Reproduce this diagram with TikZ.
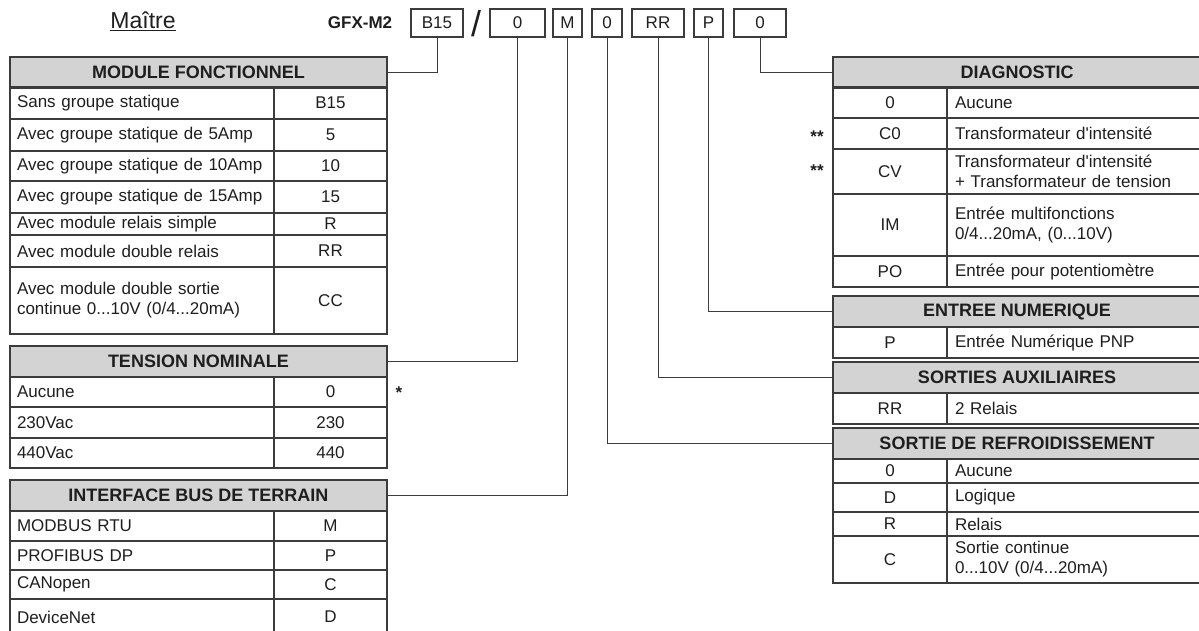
\documentclass[tikz,border=0pt]{standalone}
\usepackage{fontspec}
\setmainfont{Liberation Sans}
\usepackage{xcolor}
\usepackage{tikz}
\usetikzlibrary{
  positioning
}
\definecolor{HeadGray}{HTML}{D3D3D3}
\definecolor{RuleGray}{HTML}{3C3C3C}
\definecolor{InkGray}{HTML}{1E1E1E}
\newcommand{\rowfont}{\fontsize{17}{20}\selectfont}
\newcommand{\headfont}{\fontsize{18}{21}\selectfont\bfseries}
\tikzset{
  cell/.style={
    draw=RuleGray,
    line width=1.1pt,
    inner ysep=1pt,
    outer sep=0pt,
    anchor=north west,
    text=InkGray,
    font=\rowfont
  },
  desccell/.style={
    cell,
    inner xsep=7pt,
    align=left
  },
  codecell/.style={
    cell,
    minimum width=114pt,
    align=center
  },
  header/.style={
    cell,
    fill=HeadGray,
    font=\headfont,
    minimum height=31pt
  },
  codebox/.style={
    cell,
    minimum height=28pt,
    inner xsep=0pt
  },
  link/.style={
    draw=RuleGray,
    line width=1pt
  },
  note/.style={
    text=InkGray,
    font=\fontsize{17}{17}\selectfont\bfseries
  }
}
% name, top, height, description, code
\newcommand{\leftrow}[5]{%
  \node[desccell, text width=250pt, minimum height=#3pt] (#1-desc) at (10,#2) {#4};
  \node[codecell, minimum width=113pt, minimum height=#3pt] (#1-code) at (274,#2) {#5};
}
% name, top, height, code, description
\newcommand{\rightrow}[5]{%
  \node[codecell, minimum height=#3pt] (#1-code) at (833,#2) {#4};
  \node[desccell, inner xsep=8pt, text width=238pt, minimum height=#3pt] (#1-desc) at (947,#2) {#5};
}
\begin{document}
\begin{tikzpicture}[x=1pt, y=-1pt]

  \useasboundingbox (0,0) rectangle (1199,630);

  % order code
  \node[font=\fontsize{23}{23}\selectfont, text=InkGray] (master) at (143,21) {\underline{Maître}};
  \node[font=\fontsize{17}{17}\selectfont\bfseries, text=InkGray] (model) at (360,23) {GFX-M2};
  \node[codebox, minimum width=52pt] (b15box) at (411,9) {B15};
  \node[font=\fontsize{36}{36}\selectfont, text=InkGray] (slash) at (476,24) {/};
  \node[codebox, minimum width=55pt] (voltbox) at (490,9) {0};
  \node[codebox, minimum width=29pt] (busbox) at (553,9) {M};
  \node[codebox, minimum width=30pt] (coolbox) at (592,9) {0};
  \node[codebox, minimum width=52pt] (auxbox) at (632,9) {RR};
  \node[codebox, minimum width=29pt] (numbox) at (694,9) {P};
  \node[codebox, minimum width=52pt] (diagbox) at (734,9) {0};

  % left tables
  \node[header, minimum width=377pt] (modhdr) at (10,57) {MODULE FONCTIONNEL};
  \leftrow{sans}{87}{32}{Sans groupe statique}{B15}
  \leftrow{amp5}{119}{32}{Avec groupe statique de 5Amp}{5}
  \leftrow{amp10}{151}{30}{Avec groupe statique de 10Amp}{10}
  \leftrow{amp15}{181}{32}{Avec groupe statique de 15Amp}{15}
  \leftrow{relr}{213}{22}{Avec module relais simple}{R}
  \leftrow{relrr}{235}{32}{Avec module double relais}{RR}
  \leftrow{outcc}{267}{67}{Avec module double sortie\\continue 0...10V (0/4...20mA)}{CC}

  \node[header, minimum width=377pt] (tenshdr) at (10,346) {TENSION NOMINALE};
  \leftrow{vnone}{377}{30}{Aucune}{0}
  \leftrow{v230}{407}{31}{230Vac}{230}
  \leftrow{v440}{438}{30}{440Vac}{440}
  \node[note] (star) at (399,393) {*};

  \node[header, minimum width=377pt] (bushdr) at (10,480) {INTERFACE BUS DE TERRAIN};
  \leftrow{modbus}{511}{30}{MODBUS RTU}{M}
  \leftrow{profibus}{541}{29}{PROFIBUS DP}{P}
  \leftrow{canopen}{570}{29}{CANopen}{C}
  \leftrow{devnet}{599}{36}{DeviceNet}{D}

  % right tables
  \node[header, minimum width=368pt] (diaghdr) at (833,57) {DIAGNOSTIC};
  \rightrow{dnone}{87}{31}{0}{Aucune}
  \rightrow{dc0}{118}{31}{C0}{Transformateur d\textquotesingle intensité}
  \rightrow{dcv}{149}{45}{CV}{Transformateur d\textquotesingle intensité\\+ Transformateur de tension}
  \rightrow{dim}{194}{62}{IM}{Entrée multifonctions\\0/4...20mA, (0...10V)}
  \rightrow{dpo}{256}{31}{PO}{Entrée pour potentiomètre}
  \node[note] (starc0) at (817,137) {**};
  \node[note] (starcv) at (817,171) {**};

  \node[header, minimum width=368pt] (numhdr) at (833,296) {ENTREE NUMERIQUE};
  \rightrow{npnp}{327}{31}{P}{Entrée Numérique PNP}

  \node[header, minimum width=368pt] (auxhdr) at (833,362) {SORTIES AUXILIAIRES};
  \rightrow{arr}{393}{31}{RR}{2 Relais}

  \node[header, minimum width=368pt] (coolhdr) at (833,428) {SORTIE DE REFROIDISSEMENT};
  \rightrow{cnone}{459}{24}{0}{Aucune}
  \rightrow{clog}{483}{29}{D}{Logique}
  \rightrow{crel}{512}{24}{R}{Relais}
  \rightrow{ccont}{536}{47}{C}{Sortie continue\\0...10V (0/4...20mA)}

  % connectors
  \draw[link] (b15box.south) |- (modhdr.east);
  \draw[link] (voltbox.south) |- (tenshdr.east);
  \draw[link] (busbox.south) |- (bushdr.east);
  \draw[link] (coolbox.south) |- (coolhdr.west);
  \draw[link] (auxbox.south) |- (auxhdr.west);
  \draw[link] (numbox.south) |- (numhdr.west);
  \draw[link] (diagbox.south) |- (diaghdr.west);

\end{tikzpicture}
\end{document}
